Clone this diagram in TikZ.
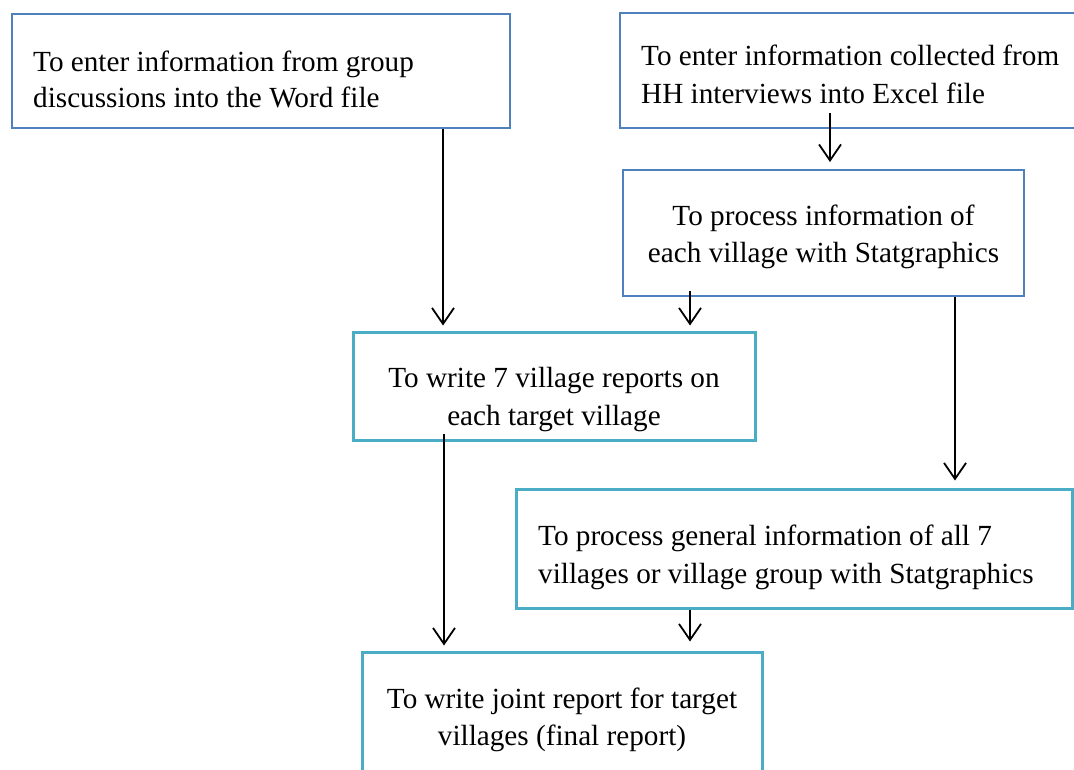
\documentclass[tikz,border=0pt]{standalone}
\usepackage{fontspec}
\setmainfont{Liberation Serif}
\usetikzlibrary{arrows.meta}
\definecolor{boxblue}{HTML}{4F81BD}
\definecolor{boxteal}{HTML}{4BACC6}
\begin{document}
\begin{tikzpicture}[x=1pt,y=-1pt,
  bluebox/.style={draw=boxblue,line width=2pt,rectangle,inner sep=0pt},
  tealbox/.style={draw=boxteal,line width=3pt,rectangle,inner sep=0pt},
  lbl/.style={inner sep=0pt,font=\fontsize{29.2}{37}\selectfont},
  arr/.style={draw=black,line width=1.8pt,-{Straight Barb[length=16pt,width=22pt,line width=1.8pt]}}]
\useasboundingbox (0,0) rectangle (1074,769);
\clip (0,0) rectangle (1074,769);
% boxes
\node[bluebox,minimum width=498pt,minimum height=114pt] (A) at (261,71) {};
\node[bluebox,minimum width=475pt,minimum height=115pt] (B) at (857.5,70.5) {};
\node[bluebox,minimum width=401pt,minimum height=126pt] (C) at (823.5,233) {};
\node[tealbox,minimum width=402pt,minimum height=108pt] (D) at (554,386) {};
\node[tealbox,minimum width=556pt,minimum height=119pt] (E) at (794,548.5) {};
\node[tealbox,minimum width=400pt,minimum height=138pt] (F) at (562,721) {};
% texts
\node[lbl,anchor=base west] (a1) at (33,71) {To enter information from group};
\node[lbl,anchor=base west] (a2) at (33,107) {discussions into the Word file};
\node[lbl,anchor=base west] (b1) at (641,65) {To enter information collected from};
\node[lbl,anchor=base west] (b2) at (641,103) {HH interviews into Excel file};
\node[lbl,anchor=base] (c1) at (823.5,225) {To process information of};
\node[lbl,anchor=base] (c2) at (823.5,262) {each village with Statgraphics};
\node[lbl,anchor=base] (d1) at (554,387) {To write 7 village reports on};
\node[lbl,anchor=base] (d2) at (554,425) {each target village};
\node[lbl,anchor=base west] (e1) at (538,545) {To process general information of all 7};
\node[lbl,anchor=base west] (e2) at (538,583) {villages or village group with Statgraphics};
\node[lbl,anchor=base] (f1) at (562,708) {To write joint report for target};
\node[lbl,anchor=base] (f2) at (562,745) {villages (final report)};
% arrows
\draw[arr] ([xshift=182pt]A.south) -- ([xshift=-111pt,yshift=5pt]D.north);
\draw[arr] ([xshift=-27.5pt,yshift=16pt]B.south) -- ([xshift=6.5pt,yshift=7pt]C.north);
\draw[arr] ([xshift=-133.5pt,yshift=6pt]C.south) -- ([xshift=136pt,yshift=5pt]D.north);
\draw[arr] ([xshift=131.5pt]C.south) -- ([xshift=161pt,yshift=7pt]E.north);
\draw[arr] ([xshift=-110pt,yshift=8pt]D.south) -- ([xshift=-118pt,yshift=5pt]F.north);
\draw[arr] ([xshift=-104pt]E.south) -- ([xshift=128pt,yshift=9pt]F.north);
\end{tikzpicture}
\end{document}
